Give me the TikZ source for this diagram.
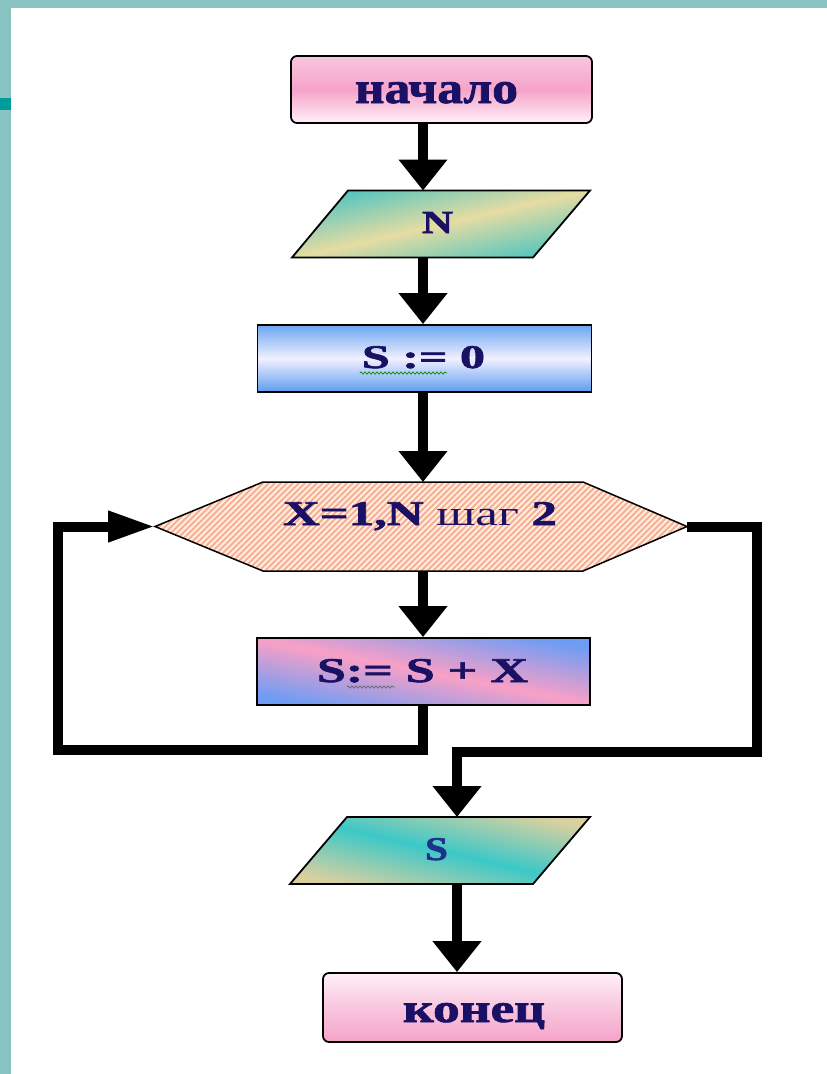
\documentclass[tikz,border=0pt]{standalone}
\usepackage{fontspec}
\setmainfont{Liberation Serif}[BoldFeatures={FakeBold=1.6}]
\usepackage{graphicx}
\usetikzlibrary{arrows.meta,decorations.pathmorphing}
\definecolor{tealL}{HTML}{86C3C1}
\definecolor{tealD}{HTML}{009B9B}
\definecolor{txt}{RGB}{26,16,100}
\definecolor{pinkA}{HTML}{F8C6DE}
\definecolor{pinkB}{HTML}{F6A3C9}
\definecolor{pinkC}{HTML}{FFF0F8}
\definecolor{tealF}{HTML}{4FC4C0}
\definecolor{tanF}{HTML}{E6DCA2}
\definecolor{tealG}{HTML}{3CC8C8}
\definecolor{tanG}{HTML}{D9D0A0}
\definecolor{blueA}{HTML}{6AA6F2}
\definecolor{blueM}{HTML}{F2F0FF}
\definecolor{blueB}{HTML}{5C9CF0}
\definecolor{bodyB}{HTML}{6E9CF5}
\definecolor{bodyP}{HTML}{F8A0C6}
\definecolor{cream}{HTML}{FDF0DC}
\definecolor{salmon}{HTML}{F4B09A}
\tikzset{
  box/.style={draw=black, line width=1.8pt, inner sep=0pt},
  ghost/.style={inner sep=0pt, outer sep=0pt},
  conn/.style={line width=10pt, -{Triangle[length=31pt,width=47pt]}},
  connh/.style={line width=10pt, -{Triangle[length=47pt,width=29pt]}},
  lbl/.style={text=txt, inner sep=0pt, anchor=base},
  squig/.style={line width=0.7pt, decorate, decoration={snake, amplitude=1.2pt, segment length=4pt}},
}
\begin{document}
\begin{tikzpicture}[x=1pt,y=-1pt]
\useasboundingbox (0,0) rectangle (827,1074);
\fill[white] (0,0) rectangle (827,1074);
\fill[tealL] (0,0) rectangle (827,8);
\fill[tealL] (0,0) rectangle (11,1074);
\fill[tealD] (0,98) rectangle (11,110);

% column coordinates
\coordinate (colx) at (423,0);
\coordinate (sx) at (457,0);
\coordinate (lb) at (58,750);
\coordinate (rb) at (757,752);

% start
\node[box, rounded corners=6pt, minimum width=301pt, minimum height=67pt,
      top color=pinkA, bottom color=pinkC, middle color=pinkB] (start) at (441.5,89.5) {};
% input N
\node[ghost, minimum width=298pt, minimum height=67pt] (inN) at (441,224) {};
\draw[line width=1.8pt, top color=tealF, bottom color=tealF, middle color=tanF, shading angle=13]
  ([xshift=56pt]inN.north west) -- (inN.north east) -- ([xshift=-57pt]inN.south east) -- (inN.south west) -- cycle;
% init
\node[box, minimum width=334pt, minimum height=67pt,
      top color=blueA, bottom color=blueB, middle color=blueM] (init) at (424.5,358.5) {};
% loop hexagon
\node[ghost, minimum width=532pt, minimum height=89pt] (loop) at (421,526.5) {};
\fill[cream] (loop.west) -- ([xshift=108pt]loop.north west) -- ([xshift=-104pt]loop.north east) -- (loop.east)
  -- ([xshift=-104pt]loop.south east) -- ([xshift=108pt]loop.south west) -- cycle;
\begin{scope}
\clip (loop.west) -- ([xshift=108pt]loop.north west) -- ([xshift=-104pt]loop.north east) -- (loop.east)
  -- ([xshift=-104pt]loop.south east) -- ([xshift=108pt]loop.south west) -- cycle;
\foreach \xx in {-100,-94,...,540}
  \draw[salmon, line width=2.1pt] ([xshift=\xx pt]loop.south west) -- ++(100,-100);
\end{scope}
\draw[line width=1.5pt] (loop.west) -- ([xshift=108pt]loop.north west) -- ([xshift=-104pt]loop.north east) -- (loop.east)
  -- ([xshift=-104pt]loop.south east) -- ([xshift=108pt]loop.south west) -- cycle;
% body
\node[box, minimum width=333pt, minimum height=67pt,
      top color=bodyB, bottom color=bodyB, middle color=bodyP, shading angle=-11] (body) at (423.5,671.5) {};
% output S
\node[ghost, minimum width=300pt, minimum height=67pt] (outS) at (440,850.5) {};
\draw[line width=1.8pt, top color=tanG, bottom color=tanG, middle color=tealG, shading angle=-13]
  ([xshift=57pt]outS.north west) -- (outS.north east) -- ([xshift=-57pt]outS.south east) -- (outS.south west) -- cycle;
% end
\node[box, rounded corners=6pt, minimum width=299pt, minimum height=69pt,
      top color=pinkC, bottom color=pinkB, middle color=pinkA] (end) at (472.5,1007.5) {};

% labels
\node[lbl] (t1) at (436.5,103) {\resizebox{163pt}{21pt}{\bfseries начало}};
\node[lbl] (t2) at (437.5,233) {\resizebox{31pt}{21pt}{\bfseries N}};
\node[lbl] (t3) at (423.5,368) {\resizebox{123pt}{22pt}{\bfseries S := 0}};
\node[lbl] (t4) at (420,525) {\resizebox{274pt}{23pt}{\textbf{X=1,N} шаг \textbf{2}}};
\node[lbl] (t5) at (422.5,682) {\resizebox{211pt}{23pt}{\bfseries S:= S + X}};
\node[lbl, text={rgb,255:red,30;green,50;blue,140}] (t6) at (436.5,860) {\resizebox{23pt}{22pt}{\bfseries S}};
\node[lbl] (t7) at (474,1022) {\resizebox{142pt}{19pt}{\bfseries конец}};

% spell-check squiggles
\draw[squig, green!55!black] ([xshift=-2pt,yshift=-5pt]t3.base west) -- ++(87,0);
\draw[squig, black!60] ([xshift=30pt,yshift=-5pt]t5.base west) -- ++(48,0);

% connectors
\draw[conn] (start.south -| colx) -- (inN.north -| colx);
\draw[conn] (inN.south -| colx) -- (init.north -| colx);
\draw[conn] (init.south -| colx) -- (loop.north -| colx);
\draw[conn] (loop.south -| colx) -- (body.north -| colx);
\draw[connh] (body.south -| colx) |- (lb) |- (loop.west);
\draw[conn] (loop.east) -| (rb) -| (outS.north -| sx);
\draw[conn] (outS.south -| sx) -- (end.north -| sx);
\end{tikzpicture}
\end{document}
